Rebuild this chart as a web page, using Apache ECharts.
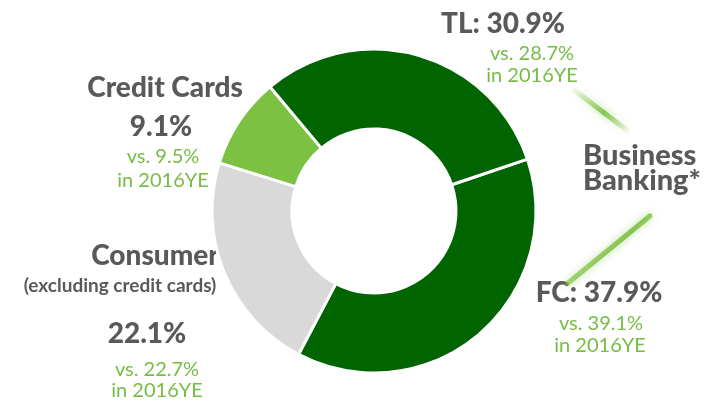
<!DOCTYPE html>
<html>
<head>
<meta charset="utf-8">
<script src="https://cdn.jsdelivr.net/npm/echarts@6/dist/echarts.min.js"></script>
<style>
  html, body { margin: 0; padding: 0; background: #fff; }
  #chart { width: 705px; height: 402px; }
</style>
</head>
<body>
<div id="chart"></div>
<script>
// segments in drawing order (clockwise from the TL/FC split)
const categories = ['FC', 'Consumer', 'Credit Cards', 'TL'];
const shares = [37.9, 22.1, 9.1, 30.9];
const prevShares = [39.1, 22.7, 9.5, 28.7];
const prevLabel = 'in 2016YE';
const sliceColors = ['#006400', '#d9d9d9', '#7dc142', '#006400'];

const grey = '#595959';
const green = '#77bd45';
const font = 'Lato, "Open Sans", sans-serif';
const big = 28, small = 20;

const pct = v => v.toFixed(1) + '%';

function txt(text, x, y, size, color, align, weight) {
    return {
        type: 'text',
        x: x,
        y: y,
        style: {
            text: text,
            fill: color,
            font: (weight || '900') + ' ' + size + 'px ' + font,
            textAlign: align || 'center',
            textVerticalAlign: 'middle'
        }
    };
}

// soft green "glow" strokes beside Business Banking
function glow(x1, y1, x2, y2) {
    return {
        type: 'line',
        shape: { x1: x1, y1: y1, x2: x2, y2: y2 },
        style: {
            lineWidth: 5,
            lineCap: 'round',
            stroke: new echarts.graphic.LinearGradient(0, 0, 1, 1, [
                { offset: 0, color: 'rgba(125,193,66,0)' },
                { offset: 0.55, color: 'rgba(125,193,66,0.9)' },
                { offset: 1, color: 'rgba(125,193,66,0)' }
            ]),
            shadowBlur: 8,
            shadowColor: 'rgba(125,193,66,0.6)'
        }
    };
}

const chart = echarts.init(document.getElementById('chart'));

const option = {
    animation: false,
    series: [{
        type: 'pie',
        center: [374, 211],
        radius: [82, 162],
        startAngle: 18.7,
        clockwise: true,
        label: { show: false },
        labelLine: { show: false },
        itemStyle: { borderColor: '#fff', borderWidth: 3 },
        data: categories.map((c, i) => ({
            name: c,
            value: shares[i],
            itemStyle: { color: sliceColors[i] }
        }))
    }],
    graphic: [
        // TL
        txt(categories[3] + ': ' + pct(shares[3]), 503, 24, big, grey),
        txt('vs. ' + pct(prevShares[3]), 532, 54, small, green, 'center', 'normal'),
        txt(prevLabel, 532, 76, small, green, 'center', 'normal'),
        // Credit Cards
        txt(categories[2], 165, 88, big, grey),
        txt(pct(shares[2]), 161, 127, big, grey),
        txt('vs. ' + pct(prevShares[2]), 163, 157, small, green, 'center', 'normal'),
        txt(prevLabel, 163, 181, small, green, 'center', 'normal'),
        // Consumer
        txt(categories[1], 155, 256, big, grey),
        txt('(excluding credit cards)', 120, 286, 19, grey, 'center', 'bold'),
        txt(pct(shares[1]), 147, 334, big, grey),
        txt('vs. ' + pct(prevShares[1]), 157, 370, small, green, 'center', 'normal'),
        txt(prevLabel, 157, 391, small, green, 'center', 'normal'),
        // FC
        txt(categories[0] + ': ' + pct(shares[0]), 599, 293, big, grey),
        txt('vs. ' + pct(prevShares[0]), 601, 324, small, green, 'center', 'normal'),
        txt(prevLabel, 600, 346, small, green, 'center', 'normal'),
        // Business Banking
        txt('Business', 583, 156, 29, grey, 'left'),
        txt('Banking*', 583, 181, 29, grey, 'left'),
        glow(574, 90, 628, 131),
        glow(568, 283, 650, 216)
    ]
};

chart.setOption(option);
</script>
</body>
</html>
